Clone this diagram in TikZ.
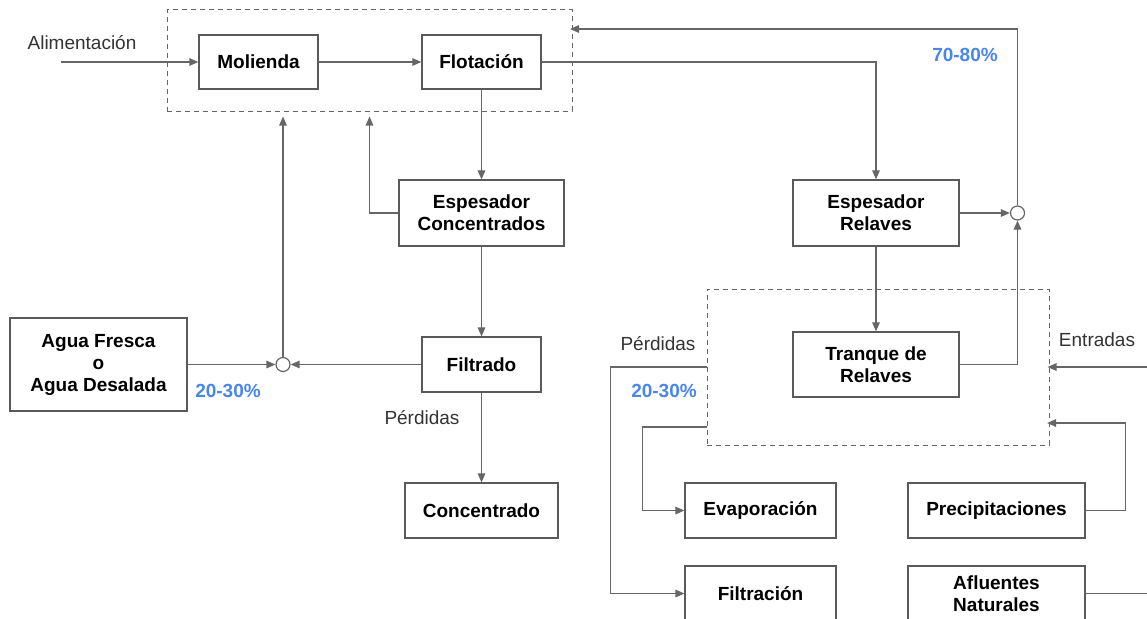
\documentclass[tikz,border=0pt]{standalone}
\usepackage{fontspec}
\setmainfont{Liberation Sans}
\usepackage{xcolor}
\usepackage{tikz}
\usetikzlibrary{arrows.meta,arrows}
\definecolor{linea}{RGB}{102,102,102}
\definecolor{borde}{RGB}{90,90,90}
\definecolor{porcentaje}{RGB}{74,134,232}
\definecolor{rotulo}{RGB}{51,51,51}
\tikzset{
  equipo/.style={draw=borde, line width=1.2pt, align=center, inner sep=0pt,
    font=\bfseries\fontsize{19}{22}\selectfont},
  grupo/.style={draw=linea, line width=1pt, dash pattern=on 5pt off 4pt, inner sep=0pt},
  flujo/.style={draw=linea, line width=1.4pt, -{Triangle[length=9pt,width=7.5pt]}},
  union/.style={circle, draw=linea, line width=1.2pt, minimum size=14pt, inner sep=0pt},
  nota/.style={text=rotulo, font=\fontsize{19}{22}\selectfont},
  cifra/.style={text=porcentaje, font=\bfseries\fontsize{19}{22}\selectfont},
}

\begin{document}
\begin{tikzpicture}[x=1pt, y=-1pt]
\useasboundingbox (0,0) rectangle (1147,618);
\clip (0,0) rectangle (1147,618);
\node[grupo, minimum width=405pt, minimum height=101pt] (planta) at (369.5,60.5) {};
\node[grupo, minimum width=342pt, minimum height=156pt] (deposito) at (878,367) {};

\node[equipo, minimum width=119pt, minimum height=54pt] (molienda) at (258.5,62) {Molienda};
\node[equipo, minimum width=119pt, minimum height=54pt] (flotacion) at (481.5,62) {Flotación};
\node[equipo, minimum width=165pt, minimum height=66pt] (espcon) at (481.5,213) {Espesador\\Concentrados};
\node[equipo, minimum width=119pt, minimum height=55pt] (filtrado) at (481.5,364.5) {Filtrado};
\node[equipo, minimum width=153pt, minimum height=55pt] (concentrado) at (481.5,510.5) {Concentrado};
\node[equipo, minimum width=177pt, minimum height=93pt] (agua) at (98.5,364.5) {Agua Fresca\\o\\Agua Desalada};
\node[equipo, minimum width=166pt, minimum height=66pt] (espre) at (876,213) {Espesador\\Relaves};
\node[equipo, minimum width=166pt, minimum height=65pt] (tranque) at (876,364.5) {Tranque de\\Relaves};
\node[equipo, minimum width=151pt, minimum height=55pt] (evap) at (760.5,510.5) {Evaporación};
\node[equipo, minimum width=177pt, minimum height=55pt] (precip) at (996.5,510.5) {Precipitaciones};
\node[equipo, minimum width=151pt, minimum height=55pt] (filtracion) at (760.5,593.5) {Filtración};
\node[equipo, minimum width=177pt, minimum height=55pt] (afluentes) at (996.5,593.5) {Afluentes\\Naturales};

\node[union] (mezclaizq) at (283,364.5) {};
\node[union] (mezclader) at (1017.5,213) {};

\coordinate (entrada) at (61,62);
\coordinate (retorno) at (572,29);
\coordinate (entradader) at (1147,367);
\coordinate (lluvia) at (1049,423);
\coordinate (evapsal) at (707,427);
\coordinate (afluentesal) at (1147,593.5);

\node[nota] (alim) at (82,43) {Alimentación};
\node[nota] (perdidas1) at (422,418) {Pérdidas};
\node[nota] (perdidas2) at (658,344) {Pérdidas};
\node[nota] (entradas) at (1097,340) {Entradas};
\node[cifra] (pct1) at (228,391) {20-30\%};
\node[cifra] (pct2) at (664,391) {20-30\%};
\node[cifra] (pct3) at (965,55) {70-80\%};

\draw[flujo] (entrada) -- (molienda);
\draw[flujo] (molienda) -- (flotacion);
\draw[flujo] (flotacion) -- (espcon);
\draw[flujo] (flotacion) -| (espre);
\draw[flujo] (espcon) -- (filtrado);
\draw[flujo] (filtrado) -- (concentrado);
\draw[flujo, shorten >=5pt] (espcon.west) -| (planta.south);
\draw[flujo, shorten >=5pt] (mezclaizq) -- (mezclaizq |- planta.south);
\draw[flujo] (agua) -- (mezclaizq);
\draw[flujo] (filtrado) -- (mezclaizq);
\draw[flujo] (espre) -- (mezclader);
\draw[flujo] (tranque) -| (mezclader);
\draw[flujo, shorten >=-2pt] (mezclader) |- (retorno);
\draw[flujo] (espre) -- (tranque);
\draw[flujo] (deposito.west) -- ++(-96,0) |- (filtracion);
\draw[flujo] (evapsal) -- ++(-64.5,0) |- (evap);
\draw[flujo, shorten >=-2pt] (entradader) -- (deposito.east);
\draw[flujo, shorten >=-2pt] (precip.east) -- ++(40,0) |- (lluvia);
\draw[draw=linea, line width=1.4pt] (afluentes) -- (afluentesal);
\end{tikzpicture}
\end{document}
